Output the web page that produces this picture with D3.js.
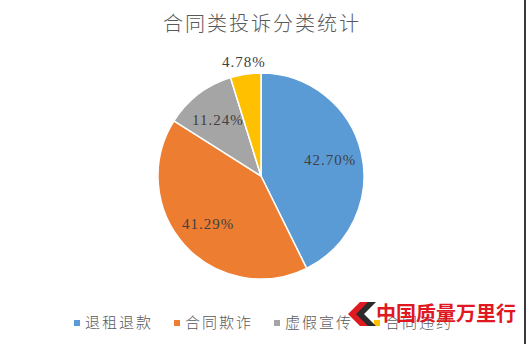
<!DOCTYPE html>
<html>
<head>
<meta charset="utf-8">
<script src="https://cdn.jsdelivr.net/npm/d3@7"></script>
<style>
  html, body { margin: 0; padding: 0; background: #fff; }
  svg { display: block; }
</style>
</head>
<body>
<svg id="chart" width="526" height="344"></svg>
<script>
// Complaint categories for contract-related complaints (percent shares)
const categories = ["退租退款", "合同欺诈", "虚假宣传", "合同违约"];
const shares = [42.70, 41.29, 11.24, 4.78];
const labels = ["42.70%", "41.29%", "11.24%", "4.78%"];
const colors = ["#5B9BD5", "#ED7D31", "#A5A5A5", "#FFC000"];

const svg = d3.select("#chart");
const W = 526, H = 344;
const cx = 261, cy = 176, R = 103;

// right frame line
svg.append("rect").attr("x", W - 2).attr("y", 0).attr("width", 2).attr("height", H).attr("fill", "#3a3a3a");

// title
svg.append("text")
  .attr("x", 262).attr("y", 31)
  .attr("text-anchor", "middle")
  .attr("font-family", "'Noto Sans CJK SC', sans-serif")
  .attr("font-weight", 300)
  .attr("font-size", 20)
  .attr("letter-spacing", 2)
  .attr("fill", "#595959")
  .text("合同类投诉分类统计");

const data = categories.map((c, i) => ({ name: c, value: shares[i], label: labels[i], color: colors[i] }));

const arcs = d3.pie().sort(null).value(d => d.value)(data);
const arc = d3.arc().innerRadius(0).outerRadius(R);

const pieG = svg.append("g").attr("transform", `translate(${cx},${cy})`);
pieG.selectAll("path")
  .data(arcs)
  .join("path")
  .attr("d", arc)
  .attr("fill", d => d.data.color)
  .attr("stroke", "#fff")
  .attr("stroke-width", 1.5)
  .attr("stroke-linejoin", "round");

// data labels: inside for large slices, just outside for the smallest one
const inner = d3.arc().innerRadius(R * 0.69).outerRadius(R * 0.69);
const outer = d3.arc().innerRadius(R + 12).outerRadius(R + 12);
const pos = arcs.map(d => (d.data.value < 6 ? outer : inner).centroid(d));

const labelG = svg.append("g").attr("transform", `translate(${cx},${cy})`);
labelG.selectAll("text")
  .data(arcs)
  .join("text")
  .attr("x", (d, i) => pos[i][0])
  .attr("y", (d, i) => pos[i][1] + 5)
  .attr("text-anchor", "middle")
  .attr("font-family", "'Liberation Serif', 'DejaVu Serif', serif")
  .attr("font-size", 15)
  .attr("letter-spacing", 1)
  .attr("fill", "#404040")
  .text(d => d.data.label);

// legend
const legend = svg.append("g").attr("transform", "translate(74,323)");
const item = legend.selectAll("g")
  .data(data)
  .join("g")
  .attr("transform", (d, i) => `translate(${i * 100},0)`);
item.append("rect")
  .attr("x", 0).attr("y", -3).attr("width", 6).attr("height", 6)
  .attr("fill", d => d.color);
item.append("text")
  .attr("x", 11).attr("y", 5)
  .attr("font-family", "'Noto Sans CJK SC', sans-serif")
  .attr("font-weight", 300)
  .attr("font-size", 15)
  .attr("letter-spacing", 2)
  .attr("fill", "#595959")
  .text(d => d.name);

// publisher mark in the lower right corner
const mark = svg.append("g").attr("transform", "translate(346,302)");
mark.append("path")
  .attr("d", "M14,0 L24,0 L12,12 L24,24 L14,24 L2,12 Z")
  .attr("fill", "#e0181f");
mark.append("path")
  .attr("d", "M22,0 L30,0 L18,12 L30,24 L22,24 L10,12 Z")
  .attr("fill", "#2b2b2b");
svg.append("text")
  .attr("x", 376).attr("y", 321)
  .attr("font-family", "'Noto Sans CJK SC', sans-serif")
  .attr("font-weight", 700)
  .attr("font-size", 20)
  .attr("fill", "#e0181f")
  .text("中国质量万里行");
</script>
</body>
</html>
